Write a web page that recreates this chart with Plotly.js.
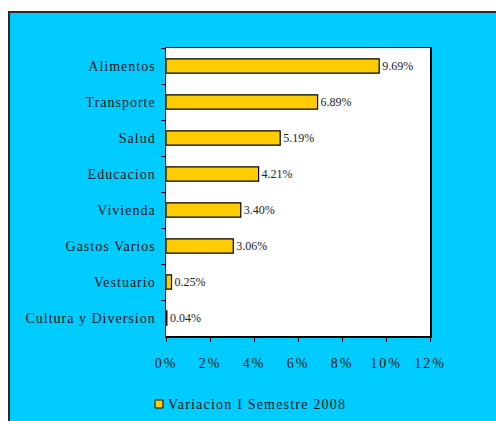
<!DOCTYPE html>
<html>
<head>
<meta charset="utf-8">
<script src="https://cdn.plot.ly/plotly-3.0.1.min.js"></script>
<style>
  html, body { margin:0; padding:0; background:#ffffff; width:496px; height:421px; overflow:hidden; }
  #frame { position:absolute; left:8px; top:11px; width:488px; height:410px; background:#00CCFF;
           border-left:2px solid #2b2b2b; border-top:2px solid #2b2b2b; box-sizing:border-box; }
  #chart { position:absolute; left:0; top:0; width:496px; height:421px; }
  .ytick text { letter-spacing:1px; }
  .xtick text { letter-spacing:2px; }
  .annotation-text { letter-spacing:1.2px; }
</style>
</head>
<body>
<div id="frame"></div>
<div id="chart"></div>
<script>
const categories = ["Alimentos", "Transporte", "Salud", "Educacion", "Vivienda", "Gastos Varios", "Vestuario", "Cultura y Diversion"];
const values = [9.69, 6.89, 5.19, 4.21, 3.40, 3.06, 0.25, 0.04];
const valueLabels = ["9.69%", "6.89%", "5.19%", "4.21%", "3.40%", "3.06%", "0.25%", "0.04%"];
const seriesName = "Variacion I Semestre 2008";
const tickVals = [0, 2, 4, 6, 8, 10, 12];
const tickText = ["0%", "2%", "4%", "6%", "8%", "10%", "12%"];

const barColor = "#FFCC00";

const trace = {
  type: "bar",
  orientation: "h",
  x: values,
  y: categories,
  name: seriesName,
  text: valueLabels,
  textposition: "outside",
  cliponaxis: false,
  textfont: { family: "Liberation Serif", size: 12, color: "#222222" },
  marker: { color: barColor, line: { color: "#000000", width: 1.2 } },
  width: 0.4,
  hoverinfo: "none",
  showlegend: false
};

// legend (symbol + label) placed below the plot, in paper coordinates
const plotW = 496 - 166 - 66, plotH = 421 - 48 - 85;
const px = v => (v - 166) / plotW;
const py = v => (421 - 85 - v) / plotH;

const layout = {
  width: 496, height: 421,
  margin: { l: 166, r: 66, t: 48, b: 85, autoexpand: false },
  paper_bgcolor: "rgba(0,0,0,0)",
  plot_bgcolor: "#ffffff",
  showlegend: false,
  xaxis: {
    range: [0, 12],
    tickvals: tickVals,
    ticktext: tickText,
    ticks: "outside", ticklen: 4, tickcolor: "#000000", tickwidth: 1,
    showline: true, linecolor: "#000000", linewidth: 1.5, mirror: true,
    showgrid: false, zeroline: false,
    ticklabelstandoff: 10,
    tickfont: { family: "Liberation Serif", size: 14, color: "#111111" }
  },
  yaxis: {
    autorange: "reversed",
    type: "category",
    ticks: "outside", ticklen: 4, tickcolor: "#000000", tickwidth: 1,
    tickson: "boundaries",
    showline: true, linecolor: "#000000", linewidth: 1.5, mirror: true,
    showgrid: false, zeroline: false,
    ticklabelstandoff: 6,
    tickfont: { family: "Liberation Serif", size: 14, color: "#111111" }
  },
  shapes: [{
    type: "rect", xref: "paper", yref: "paper",
    x0: px(155), x1: px(163), y0: py(400), y1: py(408),
    fillcolor: barColor, line: { color: "#000000", width: 1 }
  }],
  annotations: [{
    xref: "paper", yref: "paper",
    x: px(166), y: py(404), xanchor: "left", yanchor: "middle",
    text: seriesName, showarrow: false,
    font: { family: "Liberation Serif", size: 14, color: "#111111" }
  }]
};

Plotly.newPlot("chart", [trace], layout, { displayModeBar: false, staticPlot: true });
</script>
</body>
</html>
